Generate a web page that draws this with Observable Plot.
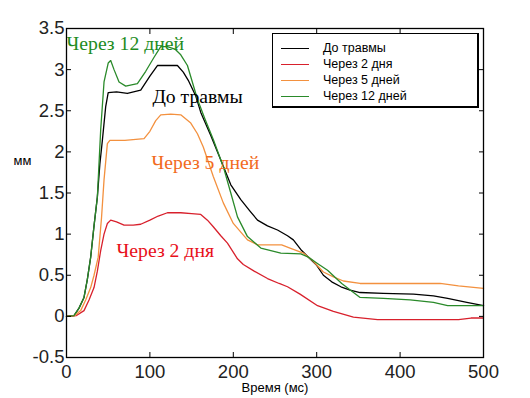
<!DOCTYPE html>
<html><head><meta charset="utf-8">
<script src="https://cdn.jsdelivr.net/npm/d3@7"></script>
<script src="https://cdn.jsdelivr.net/npm/@observablehq/plot@0.6"></script>
<style>
body{margin:0;background:#fff;}
#wrap{position:relative;width:530px;height:398px;overflow:hidden;}
#legend{position:absolute;left:272px;top:33px;width:204px;height:72px;border:1px solid #000;border-right-width:2px;border-bottom-width:2px;background:#fff;font-family:'Liberation Sans',Arial,sans-serif;font-size:12.5px;color:#000;box-sizing:content-box;}
.row{position:absolute;left:0;height:16px;line-height:16px;white-space:nowrap;}
.sw{position:absolute;left:8px;top:8px;width:28px;height:0;border-top:1.5px solid;}
.lb{position:absolute;left:50px;top:0;}
</style></head><body><div id="wrap"></div>
<script>
// Series: До травмы (black)
const preT = [0, 9, 15, 21, 25, 29, 33, 37, 40, 43, 47, 50, 60, 73, 89, 100, 109, 120, 133, 140, 146, 155, 161, 173, 185, 197, 209, 220, 229, 241, 253, 265, 272, 282, 292, 300, 308, 318, 329, 340, 352, 380, 416, 440, 457, 480, 500];
const preV = [0, 0.01, 0.1, 0.23, 0.45, 0.72, 1.1, 1.45, 1.85, 2.14, 2.55, 2.72, 2.73, 2.71, 2.75, 2.92, 3.05, 3.05, 3.05, 2.97, 2.87, 2.68, 2.48, 2.2, 1.9, 1.6, 1.42, 1.28, 1.17, 1.1, 1.05, 0.98, 0.93, 0.8, 0.7, 0.62, 0.5, 0.42, 0.36, 0.32, 0.29, 0.28, 0.27, 0.25, 0.22, 0.17, 0.13];
// Через 2 дня (red)
const d2T = [0, 12, 21, 27, 33, 37, 41, 45, 49, 53, 60, 69, 80, 89, 100, 110, 121, 137, 150, 161, 169, 176, 185, 193, 205, 212, 225, 241, 255, 265, 280, 301, 320, 344, 373, 420, 470, 485, 500];
const d2V = [0, 0.01, 0.07, 0.2, 0.35, 0.55, 0.8, 1.0, 1.13, 1.17, 1.15, 1.11, 1.11, 1.12, 1.17, 1.22, 1.26, 1.26, 1.25, 1.24, 1.17, 1.09, 0.98, 0.89, 0.7, 0.63, 0.55, 0.46, 0.4, 0.36, 0.27, 0.13, 0.06, -0.01, -0.04, -0.04, -0.04, -0.02, -0.02];
// Через 5 дней (orange)
const d5T = [0, 10, 17, 23, 29, 33, 38, 42, 45, 49, 52, 70, 93, 100, 107, 113, 125, 137, 149, 157, 164, 176, 188, 200, 217, 229, 258, 268, 284, 295, 308, 320, 332, 352, 400, 448, 470, 500];
const d5V = [0, 0.01, 0.07, 0.2, 0.35, 0.5, 0.72, 1.2, 1.66, 2.1, 2.14, 2.14, 2.16, 2.25, 2.38, 2.45, 2.46, 2.45, 2.35, 2.22, 2.06, 1.7, 1.38, 1.13, 0.93, 0.87, 0.87, 0.83, 0.77, 0.68, 0.54, 0.48, 0.43, 0.4, 0.4, 0.4, 0.37, 0.34];
// Через 12 дней (green)
const d12T = [0, 9, 15, 21, 25, 29, 33, 37, 41, 45, 50, 53, 57, 63, 71, 85, 95, 105, 113, 121, 130, 137, 145, 157, 166, 176, 188, 197, 205, 217, 233, 257, 281, 290, 300, 313, 330, 352, 380, 412, 440, 457, 480, 500];
const d12V = [0, 0.01, 0.1, 0.23, 0.45, 0.72, 1.1, 1.45, 2.27, 2.85, 3.08, 3.11, 3.0, 2.85, 2.8, 2.83, 2.98, 3.15, 3.28, 3.28, 3.25, 3.18, 3.05, 2.64, 2.4, 2.15, 1.82, 1.5, 1.21, 0.97, 0.83, 0.77, 0.76, 0.72, 0.65, 0.56, 0.4, 0.23, 0.22, 0.2, 0.17, 0.13, 0.13, 0.13];

const seriesNames = ["До травмы", "Через 2 дня", "Через 5 дней", "Через 12 дней"];
const seriesColors = ["#000000", "#d8202c", "#f3913f", "#2a8a2a"];
const seriesT = [preT, d2T, d5T, d12T];
const seriesV = [preV, d2V, d5V, d12V];

const xTicks = [0, 100, 200, 300, 400, 500];
const yTicks = [-0.5, 0, 0.5, 1, 1.5, 2, 2.5, 3, 3.5];
const yTickLabels = ["-0.5", "0", "0.5", "1", "1.5", "2", "2.5", "3", "3.5"];

const annotLabels = ["Через 12 дней", "До травмы", "Через 5 дней", "Через 2 дня"];
const annotX = [0, 103, 102, 60];
const annotY = [3.32, 2.67, 1.87, 0.8];
const annotColors = ["#1e8c1e", "#000000", "#f26b1d", "#e8101a"];

const xLabel = "Время (мс)";
const yLabel = "мм";

const rows = seriesNames.flatMap((s, k) => seriesT[k].map((t, i) => ({series: s, t, v: seriesV[k][i]})));
const annots = annotLabels.map((text, i) => ({text, x: annotX[i], y: annotY[i], c: annotColors[i]}));

const tickFont = 18.5;
const chart = Plot.plot({
  width: 530, height: 398,
  marginLeft: 66, marginRight: 47, marginTop: 28, marginBottom: 41,
  x: {domain: [0, 500]},
  y: {domain: [-0.5, 3.5]},
  color: {domain: seriesNames, range: seriesColors},
  style: {fontFamily: "'Liberation Sans', Arial, sans-serif", background: "transparent", color: "#000"},
  marks: [
    Plot.line(rows, {x: "t", y: "v", z: "series", stroke: "series", strokeWidth: 1.3}),
    Plot.text(annots, {x: "x", y: "y", text: "text", fill: "c", textAnchor: "start", fontFamily: "'Liberation Serif', 'Times New Roman', serif", fontSize: 19.7}),
    Plot.frame({stroke: "#000", strokeWidth: 1.3}),
    Plot.axisX(xTicks, {anchor: "bottom", tickSize: -5, tickFormat: () => "", label: null}),
    Plot.axisX(xTicks, {anchor: "top", tickSize: -5, tickFormat: () => "", label: null}),
    Plot.axisY(yTicks, {anchor: "left", tickSize: -5, tickFormat: () => "", label: null}),
    Plot.axisY(yTicks, {anchor: "right", tickSize: -5, tickFormat: () => "", label: null}),
    Plot.axisX(xTicks, {anchor: "bottom", tickSize: 0, tickPadding: 7, fontSize: tickFont, fill: "#222", label: null}),
    Plot.axisY(yTicks, {anchor: "left", tickSize: 0, tickPadding: 2, fontSize: tickFont, fill: "#222", label: null, tickFormat: d => yTickLabels[yTicks.indexOf(d)]}),
    Plot.text([xLabel], {frameAnchor: "bottom", dy: 34, fontSize: 13, fill: "#000"}),
    Plot.text([yLabel], {frameAnchor: "left", dx: -53, dy: -32, fontSize: 13, fill: "#000"})
  ]
});
const wrap = document.getElementById("wrap");
wrap.appendChild(chart);

const legend = document.createElement("div");
legend.id = "legend";
seriesNames.forEach((name, i) => {
  const r = document.createElement("div");
  r.className = "row";
  r.style.top = (6 + i * 16) + "px";
  r.style.width = "100%";
  const sw = document.createElement("span");
  sw.className = "sw";
  sw.style.borderTopColor = seriesColors[i];
  const lb = document.createElement("span");
  lb.className = "lb";
  lb.textContent = name;
  r.appendChild(sw); r.appendChild(lb);
  legend.appendChild(r);
});
wrap.appendChild(legend);
</script>
</body></html>
